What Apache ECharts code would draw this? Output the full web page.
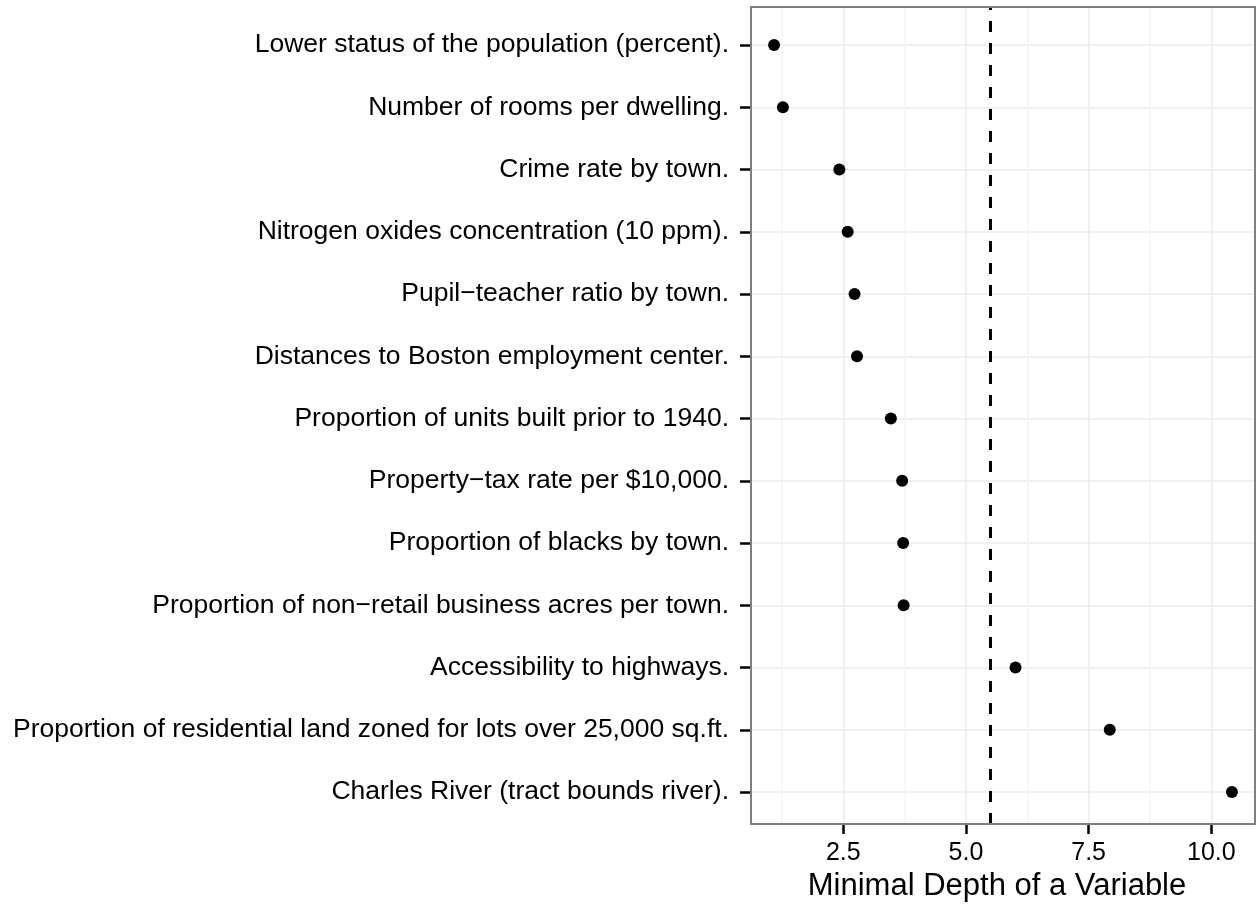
<!DOCTYPE html>
<html>
<head>
<meta charset="utf-8">
<script src="https://cdn.jsdelivr.net/npm/echarts@6/dist/echarts.min.js"></script>
<style>
  html, body { margin: 0; padding: 0; background: #fff; }
  #chart { width: 1256px; height: 907px; }
</style>
</head>
<body>
<div id="chart"></div>
<script>
// variables, top to bottom
const variables = [
  'Lower status of the population (percent).',
  'Number of rooms per dwelling.',
  'Crime rate by town.',
  'Nitrogen oxides concentration (10 ppm).',
  'Pupil\u2212teacher ratio by town.',
  'Distances to Boston employment center.',
  'Proportion of units built prior to 1940.',
  'Property\u2212tax rate per $10,000.',
  'Proportion of blacks by town.',
  'Proportion of non\u2212retail business acres per town.',
  'Accessibility to highways.',
  'Proportion of residential land zoned for lots over 25,000 sq.ft.',
  'Charles River (tract bounds river).'
];
const minDepth = [1.09, 1.27, 2.42, 2.59, 2.73, 2.78, 3.47, 3.70, 3.72, 3.73, 6.01, 7.93, 10.42];
const threshold = 5.5;
const xTicks = [2.5, 5.0, 7.5, 10.0];
const minorBreaks = [1.25, 3.75, 6.25, 8.75];

const xMin = 0.62, xMax = 10.89;
const font = 'Liberation Sans, Arial, Helvetica, sans-serif';

const chart = echarts.init(document.getElementById('chart'));

const option = {
  backgroundColor: '#fff',
  animation: false,
  grid: [
    // panel frame
    { left: 751, right: 1, top: 7, bottom: 79, show: true, borderColor: '#7f7f7f', borderWidth: 2, backgroundColor: 'transparent', z: 5 },
    // data area (category centres)
    { left: 751, right: 1, top: 45, bottom: 115 }
  ],
  xAxis: [
    {
      gridIndex: 0, type: 'value', min: xMin, max: xMax,
      name: 'Minimal Depth of a Variable',
      nameLocation: 'middle', nameGap: 47,
      nameTextStyle: { fontFamily: font, fontSize: 31, color: '#000', padding: [0, 12, 0, 0] },
      axisLine: { show: false },
      axisTick: { show: true, length: 10, lineStyle: { color: '#000', width: 2.5 }, customValues: xTicks },
      axisLabel: {
        fontFamily: font, fontSize: 25, color: '#000', margin: 17,
        customValues: xTicks,
        formatter: v => v.toFixed(1)
      },
      splitLine: { show: false }
    },
    {
      gridIndex: 1, type: 'value', min: xMin, max: xMax, show: false
    }
  ],
  yAxis: [
    { gridIndex: 0, type: 'value', min: 0, max: 1, show: false },
    {
      gridIndex: 1, type: 'category', data: variables, inverse: true, boundaryGap: false,
      axisLine: { show: false },
      axisTick: { show: true, length: 11, lineStyle: { color: '#000', width: 2.5 } },
      axisLabel: { fontFamily: font, fontSize: 26.5, color: '#000', margin: 22, interval: 0 },
      splitLine: { show: true, lineStyle: { color: '#ebebeb', width: 1.5 } }
    }
  ],
  series: [
    {
      name: 'grid',
      type: 'line',
      xAxisIndex: 0, yAxisIndex: 0,
      data: [],
      silent: true,
      z: 1,
      markLine: {
        z: 1,
        silent: true, symbol: 'none', animation: false,
        label: { show: false },
        data: [
          ...minorBreaks.map(v => ({ xAxis: v, lineStyle: { color: '#f5f5f5', width: 1.5, type: 'solid' } })),
          ...xTicks.map(v => ({ xAxis: v, lineStyle: { color: '#ebebeb', width: 1.5, type: 'solid' } }))
        ]
      }
    },
    {
      name: 'threshold',
      type: 'line',
      xAxisIndex: 0, yAxisIndex: 0,
      data: [],
      silent: true,
      z: 2,
      markLine: {
        z: 2,
        silent: true, symbol: 'none', animation: false,
        label: { show: false },
        data: [{ xAxis: threshold }],
        lineStyle: { color: '#000', width: 3, type: [11, 11] }
      }
    },
    {
      name: 'Minimal depth',
      type: 'scatter',
      xAxisIndex: 1, yAxisIndex: 1,
      symbol: 'circle',
      symbolSize: 12,
      itemStyle: { color: '#000', opacity: 1 },
      z: 10,
      data: minDepth.map((v, i) => [v, variables[i]])
    }
  ]
};

chart.setOption(option);
window.addEventListener('resize', () => chart.resize());
</script>
</body>
</html>
